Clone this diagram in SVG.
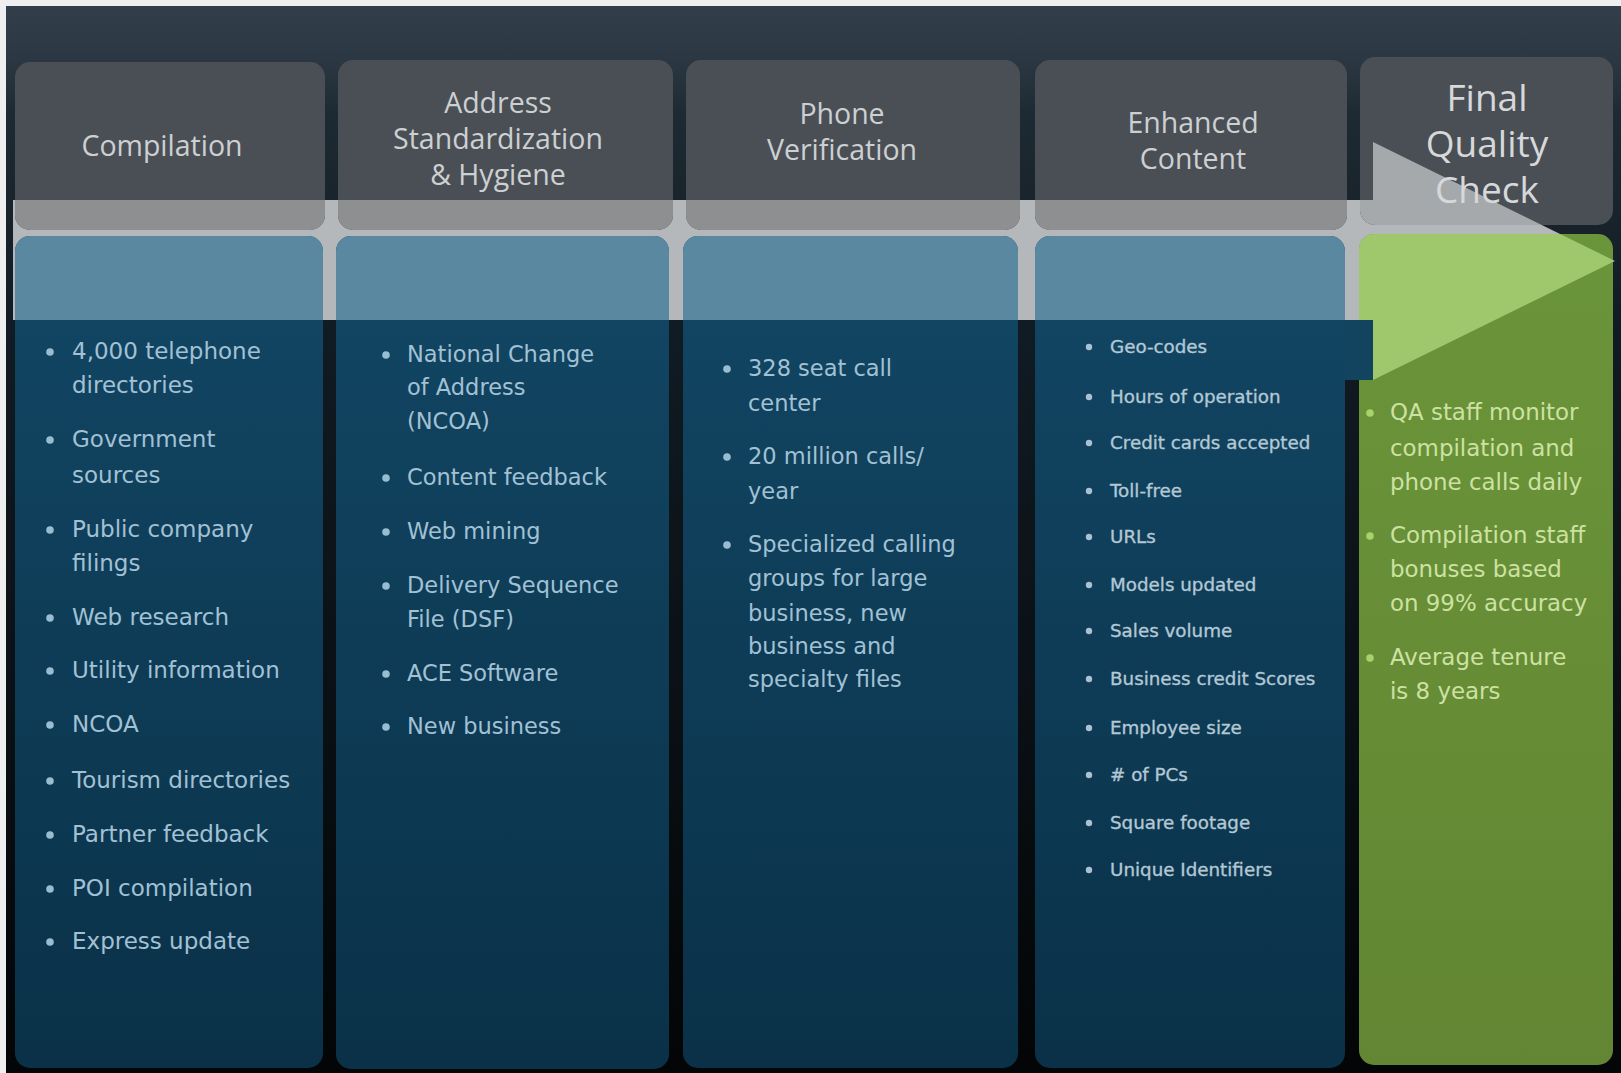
<svg xmlns="http://www.w3.org/2000/svg" xmlns:xlink="http://www.w3.org/1999/xlink" width="1621" height="1073" viewBox="0 0 1621 1073">
<style>
.hd{font-family:"Open Sans","Liberation Sans",sans-serif;font-size:28.5px;fill:#cdd0d2;text-anchor:middle}
.hd5{font-family:"Open Sans","Liberation Sans",sans-serif;font-size:37px;fill:#d6d8da;text-anchor:middle}
.tx{font-family:"DejaVu Sans","Liberation Sans",sans-serif;font-size:22.5px;fill:#a2c1d4}
.tx1{font-family:"DejaVu Sans","Liberation Sans",sans-serif;font-size:23px;fill:#a2c1d4}
.tx4{font-family:"DejaVu Sans","Liberation Sans",sans-serif;font-size:18.3px;fill:#b3c8d5;stroke:#b3c8d5;stroke-width:0.35}
.tx5{font-family:"DejaVu Sans","Liberation Sans",sans-serif;font-size:22.9px;fill:#cde2a2}
.bl{fill:#98bcd2}
.bl4{fill:#a9c1d0}
.bl5{fill:#a6d36c}
.hbox{fill:#4a4f55}
.hover{fill:#8e8f91}
.cbox{fill:url(#cgrad)}
.cover{fill:#5a88a1}
</style>
<defs>
<linearGradient id="bg" x1="0" y1="0" x2="0" y2="1">
<stop offset="0" stop-color="#323e49"/>
<stop offset="0.05" stop-color="#2b3843"/>
<stop offset="0.1" stop-color="#1e2a33"/>
<stop offset="0.3" stop-color="#111b23"/>
<stop offset="1" stop-color="#030506"/>
</linearGradient>
<linearGradient id="cgrad" x1="0" y1="0" x2="0" y2="1">
<stop offset="0" stop-color="#124765"/>
<stop offset="1" stop-color="#0a3148"/>
</linearGradient>
<linearGradient id="ggrad" x1="0" y1="0" x2="0" y2="1">
<stop offset="0" stop-color="#6b953a"/>
<stop offset="1" stop-color="#628633"/>
</linearGradient>
<path id="arrowShape" d="M13,200 H1373 V142 L1615,261 L1373,380 V320 H13 Z"/>
<clipPath id="h1"><rect x="15" y="62" width="310" height="168" rx="15"/></clipPath>
<clipPath id="h2"><rect x="338" y="60" width="335" height="170" rx="15"/></clipPath>
<clipPath id="h3"><rect x="686" y="60" width="334" height="170" rx="15"/></clipPath>
<clipPath id="h4"><rect x="1035" y="60" width="312" height="170" rx="15"/></clipPath>
<clipPath id="h5"><rect x="1360" y="57" width="253" height="168" rx="15"/></clipPath>
<clipPath id="c1"><rect x="15" y="236" width="308" height="832" rx="15"/></clipPath>
<clipPath id="c2"><rect x="336" y="236" width="333" height="833" rx="15"/></clipPath>
<clipPath id="c3"><rect x="683" y="236" width="335" height="832" rx="15"/></clipPath>
<clipPath id="c4"><rect x="1035" y="236" width="310" height="832" rx="15"/></clipPath>
<clipPath id="c5"><rect x="1359" y="234" width="254" height="831" rx="15"/></clipPath>
</defs>

<g id="background">
<rect x="0" y="0" width="1621" height="1073" fill="#efefef"/>
<rect x="6" y="6" width="1615" height="1067" fill="url(#bg)"/>
</g>

<g id="connectors">
<use xlink:href="#arrowShape" href="#arrowShape" fill="#b4b8bb"/>
</g>

<g id="col-compilation">
<rect class="hbox" x="15" y="62" width="310" height="168" rx="15"/>
<use xlink:href="#arrowShape" href="#arrowShape" class="hover" clip-path="url(#h1)"/>
<text class="hd" x="162" y="156">Compilation</text>
<rect class="cbox" x="15" y="236" width="308" height="832" rx="15"/>
<use xlink:href="#arrowShape" href="#arrowShape" class="cover" clip-path="url(#c1)"/>
<g class="bl">
<circle cx="50" cy="352" r="3.8"/><circle cx="50" cy="440" r="3.8"/><circle cx="50" cy="530" r="3.8"/><circle cx="50" cy="618" r="3.8"/><circle cx="50" cy="671" r="3.8"/><circle cx="50" cy="725" r="3.8"/><circle cx="50" cy="781" r="3.8"/><circle cx="50" cy="835" r="3.8"/><circle cx="50" cy="889" r="3.8"/><circle cx="50" cy="942" r="3.8"/>
</g>
<text class="tx1">
<tspan x="72" y="359">4,000 telephone</tspan>
<tspan x="72" y="393">directories</tspan>
<tspan x="72" y="447">Government</tspan>
<tspan x="72" y="483">sources</tspan>
<tspan x="72" y="537">Public company</tspan>
<tspan x="72" y="571">filings</tspan>
<tspan x="72" y="625">Web research</tspan>
<tspan x="72" y="678">Utility information</tspan>
<tspan x="72" y="732">NCOA</tspan>
<tspan x="72" y="788">Tourism directories</tspan>
<tspan x="72" y="842">Partner feedback</tspan>
<tspan x="72" y="896">POI compilation</tspan>
<tspan x="72" y="949">Express update</tspan>
</text>
</g>

<g id="col-address">
<rect class="hbox" x="338" y="60" width="335" height="170" rx="15"/>
<use xlink:href="#arrowShape" href="#arrowShape" class="hover" clip-path="url(#h2)"/>
<text class="hd"><tspan x="498" y="113">Address</tspan><tspan x="498" y="149">Standardization</tspan><tspan x="498" y="185">&amp; Hygiene</tspan></text>
<rect class="cbox" x="336" y="236" width="333" height="833" rx="15"/>
<use xlink:href="#arrowShape" href="#arrowShape" class="cover" clip-path="url(#c2)"/>
<g class="bl">
<circle cx="386" cy="355" r="3.8"/><circle cx="386" cy="478" r="3.8"/><circle cx="386" cy="532" r="3.8"/><circle cx="386" cy="586" r="3.8"/><circle cx="386" cy="674" r="3.8"/><circle cx="386" cy="727" r="3.8"/>
</g>
<text class="tx">
<tspan x="407" y="362">National Change</tspan>
<tspan x="407" y="395">of Address</tspan>
<tspan x="407" y="429">(NCOA)</tspan>
<tspan x="407" y="485">Content feedback</tspan>
<tspan x="407" y="539">Web mining</tspan>
<tspan x="407" y="593">Delivery Sequence</tspan>
<tspan x="407" y="627">File (DSF)</tspan>
<tspan x="407" y="681">ACE Software</tspan>
<tspan x="407" y="734">New business</tspan>
</text>
</g>

<g id="col-phone">
<rect class="hbox" x="686" y="60" width="334" height="170" rx="15"/>
<use xlink:href="#arrowShape" href="#arrowShape" class="hover" clip-path="url(#h3)"/>
<text class="hd"><tspan x="842" y="124">Phone</tspan><tspan x="842" y="160">Verification</tspan></text>
<rect class="cbox" x="683" y="236" width="335" height="832" rx="15"/>
<use xlink:href="#arrowShape" href="#arrowShape" class="cover" clip-path="url(#c3)"/>
<g class="bl">
<circle cx="727" cy="369" r="3.8"/><circle cx="727" cy="457" r="3.8"/><circle cx="727" cy="545" r="3.8"/>
</g>
<text class="tx">
<tspan x="748" y="376">328 seat call</tspan>
<tspan x="748" y="411">center</tspan>
<tspan x="748" y="464">20 million calls/</tspan>
<tspan x="748" y="499">year</tspan>
<tspan x="748" y="552">Specialized calling</tspan>
<tspan x="748" y="586">groups for large</tspan>
<tspan x="748" y="621">business, new</tspan>
<tspan x="748" y="654">business and</tspan>
<tspan x="748" y="687">specialty files</tspan>
</text>
</g>

<g id="col-enhanced">
<rect class="hbox" x="1035" y="60" width="312" height="170" rx="15"/>
<use xlink:href="#arrowShape" href="#arrowShape" class="hover" clip-path="url(#h4)"/>
<text class="hd"><tspan x="1193" y="133">Enhanced</tspan><tspan x="1193" y="169">Content</tspan></text>
<rect class="cbox" x="1035" y="236" width="310" height="832" rx="15"/>
<use xlink:href="#arrowShape" href="#arrowShape" class="cover" clip-path="url(#c4)"/>
<g class="bl4">
<circle cx="1089" cy="347" r="3.2"/><circle cx="1089" cy="397" r="3.2"/><circle cx="1089" cy="443" r="3.2"/><circle cx="1089" cy="491" r="3.2"/><circle cx="1089" cy="537" r="3.2"/><circle cx="1089" cy="585" r="3.2"/><circle cx="1089" cy="631" r="3.2"/><circle cx="1089" cy="679" r="3.2"/><circle cx="1089" cy="728" r="3.2"/><circle cx="1089" cy="775" r="3.2"/><circle cx="1089" cy="823" r="3.2"/><circle cx="1089" cy="870" r="3.2"/>
</g>
<text class="tx4">
<tspan x="1110" y="353">Geo-codes</tspan>
<tspan x="1110" y="403">Hours of operation</tspan>
<tspan x="1110" y="449">Credit cards accepted</tspan>
<tspan x="1110" y="497">Toll-free</tspan>
<tspan x="1110" y="543">URLs</tspan>
<tspan x="1110" y="591">Models updated</tspan>
<tspan x="1110" y="637">Sales volume</tspan>
<tspan x="1110" y="685">Business credit Scores</tspan>
<tspan x="1110" y="734">Employee size</tspan>
<tspan x="1110" y="781"># of PCs</tspan>
<tspan x="1110" y="829">Square footage</tspan>
<tspan x="1110" y="876">Unique Identifiers</tspan>
</text>
</g>

<g id="col-final">
<rect class="hbox" x="1360" y="57" width="253" height="168" rx="15"/>
<use xlink:href="#arrowShape" href="#arrowShape" fill="#a6a9ac" clip-path="url(#h5)"/>
<text class="hd5"><tspan x="1487" y="111">Final</tspan><tspan x="1487" y="157">Quality</tspan><tspan x="1487" y="203">Check</tspan></text>
<rect x="1359" y="234" width="254" height="831" rx="15" fill="url(#ggrad)"/>
<use xlink:href="#arrowShape" href="#arrowShape" fill="#9fc86d" clip-path="url(#c5)"/>
<rect x="1345" y="320" width="28" height="60" fill="#12445f"/>
<g class="bl5">
<circle cx="1370" cy="413" r="3.8"/><circle cx="1370" cy="536" r="3.8"/><circle cx="1370" cy="658" r="3.8"/>
</g>
<text class="tx5">
<tspan x="1390" y="420">QA staff monitor</tspan>
<tspan x="1390" y="456">compilation and</tspan>
<tspan x="1390" y="490">phone calls daily</tspan>
<tspan x="1390" y="543">Compilation staff</tspan>
<tspan x="1390" y="577">bonuses based</tspan>
<tspan x="1390" y="611">on 99% accuracy</tspan>
<tspan x="1390" y="665">Average tenure</tspan>
<tspan x="1390" y="699">is 8 years</tspan>
</text>
</g>
</svg>
